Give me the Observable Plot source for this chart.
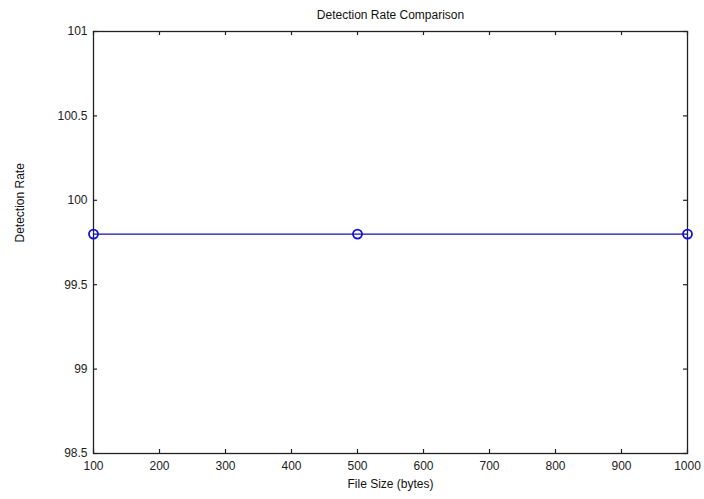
<!DOCTYPE html>
<html><head><meta charset="utf-8">
<script src="https://cdn.jsdelivr.net/npm/d3@7"></script>
<script src="https://cdn.jsdelivr.net/npm/@observablehq/plot@0.6"></script>
<style>body{margin:0;background:#fff;} svg{font-family:Arial,"Liberation Sans",sans-serif;}</style>
</head><body><div id="chart"></div>
<script>
const fileSizes = [100, 500, 1000];
const detectionRates = [99.8, 99.8, 99.8];
const xTicks = [100, 200, 300, 400, 500, 600, 700, 800, 900, 1000];
const yTicks = [98.5, 99, 99.5, 100, 100.5, 101];
const title = "Detection Rate Comparison";
const xLabel = "File Size (bytes)";
const yLabel = "Detection Rate";

const data = fileSizes.map((x, i) => ({x, y: detectionRates[i]}));

const W = 704, H = 499, mL = 93, mR = 17, mT = 31, mB = 46;
const fw = W - mL - mR, fh = H - mT - mB, tl = 4;

const chart = Plot.plot({
  width: W, height: H,
  marginLeft: mL, marginRight: mR, marginTop: mT, marginBottom: mB,
  style: {fontSize: "12px", fontFamily: "Arial, 'Liberation Sans', sans-serif", background: "#fff", color: "#222"},
  x: {domain: [100, 1000]},
  y: {domain: [98.5, 101]},
  marks: [
    Plot.axisX({ticks: xTicks, tickSize: 0, tickPadding: 8, label: null, tickFormat: d => String(d)}),
    Plot.axisY({ticks: yTicks, tickSize: 0, tickPadding: 6, label: null, tickFormat: d => String(d)}),
    Plot.ruleX(xTicks, {x: d => d, insetTop: fh - tl, stroke: "#222", strokeWidth: 1.2}),
    Plot.ruleX(xTicks, {x: d => d, insetBottom: fh - tl, stroke: "#222", strokeWidth: 1.2}),
    Plot.ruleY(yTicks, {y: d => d, insetRight: fw - tl, stroke: "#222", strokeWidth: 1.2}),
    Plot.ruleY(yTicks, {y: d => d, insetLeft: fw - tl, stroke: "#222", strokeWidth: 1.2}),
    Plot.frame({stroke: "#222", strokeWidth: 1.3}),
    Plot.line(data, {x: "x", y: "y", stroke: "#1414a8", strokeWidth: 1.3}),
    Plot.dot(data, {x: "x", y: "y", r: 4.5, stroke: "#1010d8", strokeWidth: 1.8, fill: "none"}),
    Plot.text([title], {frameAnchor: "top", dy: -21, fontSize: 12, fill: "#111"}),
    Plot.text([xLabel], {frameAnchor: "bottom", dy: 34, fontSize: 12, fill: "#111"}),
    Plot.text([yLabel], {frameAnchor: "left", dx: -73, rotate: -90, fontSize: 12, fill: "#111"})
  ]
});
document.getElementById("chart").appendChild(chart);
</script></body></html>
